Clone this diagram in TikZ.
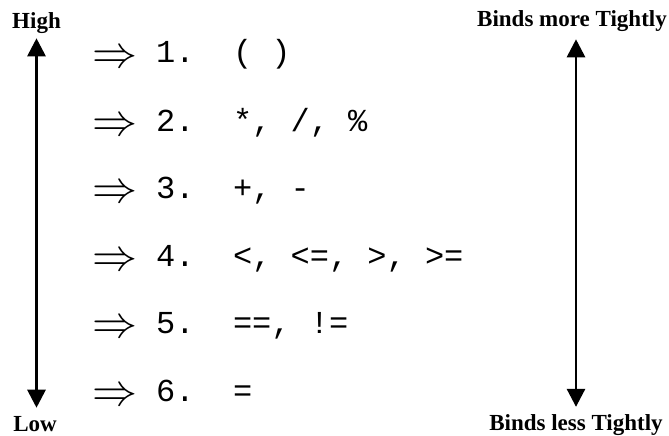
\documentclass[tikz,border=0pt]{standalone}
\usepackage{fontspec}
\setmainfont{Liberation Serif}
\setmonofont{Liberation Mono}
\usetikzlibrary{arrows.meta}
\newcommand{\implsign}{\resizebox{45pt}{!}{$\Rightarrow$}}
\begin{document}
\begin{tikzpicture}[x=1pt, y=-1pt,
        endlabel/.style={font=\fontsize{23}{23}\selectfont\bfseries, inner sep=0pt, anchor=base},
        implies/.style={inner sep=0pt, anchor=east},
        level/.style={font=\fontsize{32}{32}\selectfont\ttfamily, inner sep=0pt, anchor=base west},
        rankarrow/.style={{Triangle[width=18pt,length=18pt]}-{Triangle[width=18pt,length=18pt]}, line width=2.8pt}
    ]
        \useasboundingbox (0,0) rectangle (669,436);

        \node[endlabel] (high) at (36.5,29)  {High};
        \node[endlabel] (low)  at (35,431)   {Low};
        \node[endlabel] (more) at (572,27)   {Binds more Tightly};
        \node[endlabel] (less) at (576,430)  {Binds less Tightly};

        \node[implies] (imp1) at (138,59.5)  {\implsign};
        \node[implies] (imp2) at (138,127)   {\implsign};
        \node[implies] (imp3) at (138,194.5) {\implsign};
        \node[implies] (imp4) at (138,262)   {\implsign};
        \node[implies] (imp5) at (138,329.5) {\implsign};
        \node[implies] (imp6) at (138,397)   {\implsign};

        \node[level] (lvl1) at (156,63)  {1.~~( )};
        \node[level] (lvl2) at (156,131) {2.~~*, /, \%};
        \node[level] (lvl3) at (156,198) {3.~~+, -};
        \node[level] (lvl4) at (156,266) {4.~~<, <=, >, >=};
        \node[level] (lvl5) at (156,333) {5.~~==, !=};
        \node[level] (lvl6) at (156,401) {6.~~=};

        \draw[rankarrow, shorten <=4pt, shorten >=8pt] (high.south) -- (high.south |- low.north);
        \draw[rankarrow, shorten <=7pt, shorten >=7pt] (more.south -| less.north) -- (less.north);
    \end{tikzpicture}
\end{document}
